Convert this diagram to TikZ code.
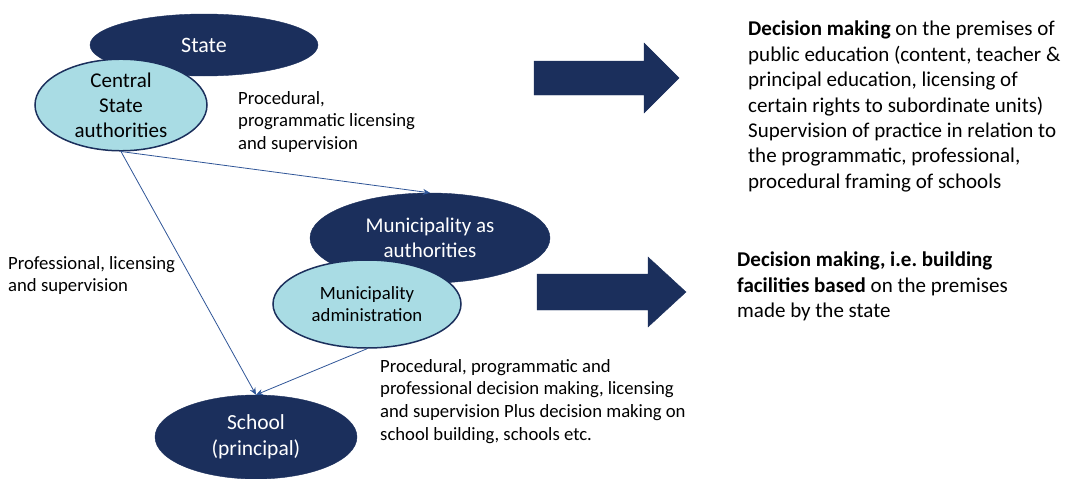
\documentclass[tikz,border=0pt]{standalone}
\usepackage{fontspec}
\setmainfont{Carlito}
\usetikzlibrary{shapes.geometric,arrows.meta}
\frenchspacing
\definecolor{navy}{HTML}{1B2F5C}
\definecolor{lblue}{HTML}{A9DCE4}
\definecolor{conn}{HTML}{2F5597}
\tikzset{
  darkell/.style={ellipse, fill=navy, draw=navy, text=white, inner sep=0pt, align=center},
  lightell/.style={ellipse, fill=lblue, draw=navy, line width=1.5pt, text=black, inner sep=0pt, align=center},
  conn/.style={draw=conn, line width=0.8pt, -{Stealth[length=7pt,width=6pt]}},
  lbl/.style={anchor=north west, align=left, inner sep=0pt, font=\fontsize{18.7}{22.8}\selectfont},
  rlbl/.style={anchor=north west, align=left, inner sep=0pt, font=\fontsize{21}{25.4}\selectfont},
  bigarrow/.style={fill=navy, draw=navy}
}
\begin{document}
\begin{tikzpicture}[x=1pt,y=-1pt]
\useasboundingbox (0,0) rectangle (1071,479);
% ellipses
\node[darkell, minimum width=228, minimum height=62, font=\fontsize{22}{25}\selectfont] (state) at (204,45) {State};
\node[lightell, minimum width=172, minimum height=86, font=\fontsize{21}{25}\selectfont] (central) at (121,105) {Central\\State\\authorities};
\node[darkell, minimum width=240, minimum height=90, font=\fontsize{21}{25}\selectfont] (muni) at (430,238) {Municipality as\\authorities};
\node[lightell, minimum width=188, minimum height=88, font=\fontsize{18.7}{22}\selectfont] (admin) at (367,304) {Municipality\\administration};
\node[darkell, minimum width=202, minimum height=84, font=\fontsize{21.5}{26}\selectfont] (school) at (256,437) {School\\(principal)};
% connectors
\draw[conn] (central.south) -- (muni.north);
\draw[conn] (central.south) -- (school.north);
\draw[conn] (admin.south) -- (school.north);
% labels
\node[lbl] (l1) at (238,91) {Procedural,\\programmatic licensing\\and supervision};
\node[lbl] (l2) at (8,256) {Professional, licensing\\and supervision};
\node[lbl] (l3) at (380,359) {Procedural, programmatic and\\professional decision making, licensing\\and supervision Plus decision making on\\school building, schools etc.};
% big arrows
\path[bigarrow] (534,61) -- (644,61) -- (644,43) -- (679,78) -- (644,113) -- (644,95) -- (534,95) -- cycle;
\path[bigarrow] (537,274) -- (648,274) -- (648,257) -- (686,292) -- (648,327) -- (648,310) -- (537,310) -- cycle;
% right texts
\node[rlbl] (r1) at (748,21) {\textbf{Decision making} on the premises of\\public education (content, teacher \&\\principal education, licensing of\\certain rights to subordinate units)\\Supervision of practice in relation to\\the programmatic, professional,\\procedural framing of schools};
\node[rlbl] (r2) at (737,252) {\textbf{Decision making, i.e. building}\\\textbf{facilities based} on the premises\\made by the state};
\end{tikzpicture}
\end{document}
